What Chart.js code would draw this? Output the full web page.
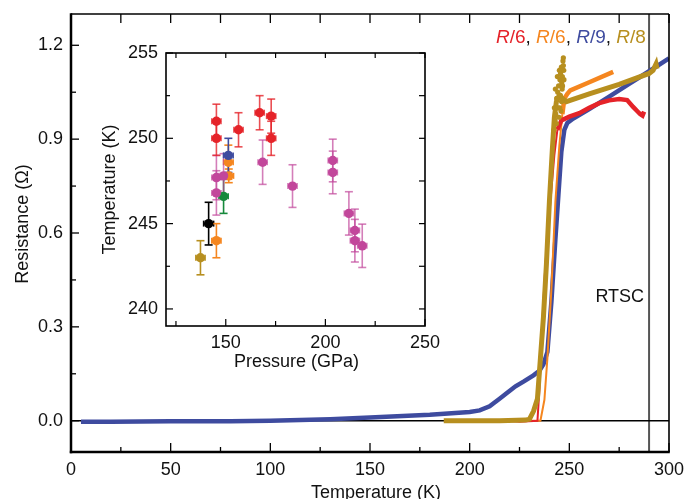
<!DOCTYPE html>
<html><head><meta charset="utf-8">
<script src="https://cdn.jsdelivr.net/npm/chart.js@4.4.1/dist/chart.umd.min.js"></script>
<style>
html,body{margin:0;padding:0;background:#fff;}
#wrap{position:relative;width:686px;height:499px;overflow:hidden;background:#fff;}
#main{position:absolute;left:0;top:0;}
#inset{position:absolute;left:96px;top:36px;}
</style></head><body>
<div id="wrap"><canvas id="main" width="686" height="499"></canvas><canvas id="inset" width="345" height="340"></canvas></div>
<script>
const FONT = '"Liberation Sans", Arial, Helvetica, sans-serif';

// ---------- main chart data (Temperature K, Resistance Ohm) ----------
const blueT = [5, 20, 50, 80, 100, 130, 150, 180, 200, 205, 210, 215, 219, 223, 227, 232, 235, 237, 239, 241, 243, 244.5, 246, 247.5, 249, 252, 260, 270, 280, 290, 300];
const blueR = [-0.003, -0.003, -0.002, -0.002, 0.0, 0.005, 0.01, 0.019, 0.028, 0.033, 0.046, 0.07, 0.09, 0.11, 0.125, 0.145, 0.16, 0.18, 0.22, 0.38, 0.58, 0.72, 0.86, 0.93, 0.952, 0.966, 0.996, 1.036, 1.077, 1.117, 1.158];

const redT = [197, 205, 215, 225, 234, 235, 236, 238, 240.5, 242.5, 244, 246, 250, 255, 260, 265, 270, 275, 279, 282, 284, 285.5, 286.7, 287.5];
const redR = [0.0, -0.002, 0.002, -0.003, 0.0, 0.1, 0.26, 0.5, 0.7, 0.85, 0.93, 0.96, 0.972, 0.983, 1.0, 1.015, 1.024, 1.028, 1.025, 1.003, 0.99, 0.98, 0.975, 0.988];

const orangeT = [198, 205, 215, 225, 235.5, 237.5, 239, 241, 243, 245, 246.5, 247.5, 249, 250.5, 260, 272];
const orangeR = [0.0, -0.003, 0.002, 0.0, 0.0, 0.067, 0.2, 0.42, 0.7, 0.88, 0.98, 1.03, 1.045, 1.056, 1.082, 1.115];

const goldT = [187, 200, 215, 228, 230, 232, 234, 235.5, 237, 238.5, 240, 241.5, 242.5, 243.5, 245, 246.5, 248.5, 260, 275, 290, 292, 293.5, 294];
const goldR = [0.0, 0.0, 0.0, 0.002, 0.005, 0.03, 0.07, 0.2, 0.33, 0.5, 0.7, 0.87, 0.97, 1.02, 1.04, 1.03, 1.02, 1.045, 1.075, 1.11, 1.12, 1.14, 1.125];
// scattered points of the R/8 trace around the transition top
const goldNoiseT = [242.3, 242.5, 242.8, 243, 243.2, 243.5, 243.7, 244, 244.3, 244.6, 244.8, 245, 245.3, 245.5, 245.8, 246, 246.2, 246.4, 246.5, 246.8, 247, 247, 247.2, 243.8, 245.2, 244.2, 245.6, 246.1, 246.6, 247.3];
const goldNoiseR = [0.93, 1.0, 0.96, 1.06, 0.98, 0.95, 1.03, 1.1, 1.0, 1.07, 0.97, 1.12, 1.09, 1.04, 0.99, 1.13, 1.08, 1.06, 1.1, 1.15, 1.135, 1.16, 1.12, 1.03, 1.0, 1.05, 1.11, 1.02, 1.07, 1.09];

const zeroT = [0, 300], zeroR = [0, 0];
const roomT = [290, 290], roomR = [-0.1, 1.3];

const mainXTicks = [0, 50, 100, 150, 200, 250, 300];
const mainXMinor = [25, 75, 125, 175, 225, 275];
const mainYTicks = [0.0, 0.3, 0.6, 0.9, 1.2];
const mainYMinor = [0.15, 0.45, 0.75, 1.05];

// ---------- inset data (Pressure GPa, Temperature K, errors) ----------
const redP = [145.3, 145.3, 156.4, 167.0, 172.8, 172.8];
const redTc = [251.0, 250.0, 250.5, 251.5, 251.3, 250.0];
const redTErr = [1.0, 1.0, 1.0, 1.0, 1.0, 1.0];
const redPErr = [2.3, 2.3, 2.3, 2.3, 2.3, 2.3];

const magP = [145.3, 145.3, 148.9, 168.5, 183.5, 203.7, 203.7, 211.8, 214.8, 214.8, 218.5];
const magTc = [247.7, 246.8, 247.8, 248.6, 247.2, 248.7, 248.0, 245.6, 244.6, 244.0, 243.7];
const magTErr = [1.3, 1.3, 1.3, 1.3, 1.25, 1.25, 1.25, 1.27, 1.25, 1.25, 1.27];
const magPErr = [2.3, 2.3, 2.3, 2.3, 2.3, 2.3, 2.3, 2.3, 2.3, 2.3, 2.3];

const blueP = [151.3], blueTc = [249.0], blueTErr = [1.0], bluePErr = [2.4];
const orangeP = [151.3, 151.5, 145.3], orangeTc = [248.6, 247.8, 244.0], orangeTErr = [1.0, 0.4, 1.0], orangePErr = [2.4, 2.4, 2.3];
const greenP = [148.9], greenTc = [246.6], greenTErr = [1.0], greenPErr = [2.3];
const blackP = [141.4], blackTc = [245.0], blackTErr = [1.25], blackPErr = [2.5];
const goldP = [137.3], goldTc = [243.0], goldTErr = [1.0], goldPErr = [2.3];

const insetXTicks = [150, 200, 250];
const insetXMinor = [125, 175, 225];
const insetYTicks = [240, 245, 250, 255];
const insetYMinor = [242.5, 247.5, 252.5];

const C = {red:'#e52329', orange:'#f5861f', blue:'#3e4b9f', gold:'#b78f1f', mag:'#c2479b', green:'#16893c', black:'#000000'};

const pts = (xs, ys) => xs.map((v, i) => ({x: v, y: ys[i]}));

function line(ctx, x1, y1, x2, y2){ ctx.beginPath(); ctx.moveTo(x1, y1); ctx.lineTo(x2, y2); ctx.stroke(); }
function noPad(s){ s.paddingLeft = 0; s.paddingRight = 0; s.paddingTop = 0; s.paddingBottom = 0; }

// ---------- main chart ----------
const mainDecor = {
  id: 'mainDecor',
  afterDraw(chart){
    const {ctx, chartArea: a, scales: {x, y}} = chart;
    ctx.save();
    ctx.strokeStyle = '#000';
    ctx.lineWidth = 1.3;
    mainXTicks.forEach(v => { const p = x.getPixelForValue(v); line(ctx, p, a.bottom, p, a.bottom - 9); line(ctx, p, a.top, p, a.top + 9); });
    mainXMinor.forEach(v => { const p = x.getPixelForValue(v); line(ctx, p, a.bottom, p, a.bottom - 5); line(ctx, p, a.top, p, a.top + 9); });
    mainYTicks.forEach(v => { const p = y.getPixelForValue(v); line(ctx, a.left, p, a.left + 8, p); });
    mainYMinor.forEach(v => { const p = y.getPixelForValue(v); line(ctx, a.left, p, a.left + 5, p); });
    ctx.lineWidth = 1.6;
    line(ctx, a.left, a.top, a.right, a.top);
    line(ctx, a.right, a.top, a.right, a.bottom);
    ctx.lineWidth = 2.5;
    line(ctx, a.left, a.top - 0.8, a.left, a.bottom + 1.2);
    line(ctx, a.left - 1.2, a.bottom, a.right + 0.8, a.bottom);

    ctx.fillStyle = '#111';
    ctx.font = '18px ' + FONT;
    ctx.textAlign = 'center';
    ctx.textBaseline = 'alphabetic';
    ctx.fillText('Temperature (K)', (a.left + a.right) / 2 + 6, 498);
    ctx.save();
    ctx.translate(28, 224);
    ctx.rotate(-Math.PI / 2);
    ctx.fillText('Resistance (\u03A9)', 0, 0);
    ctx.restore();

    // RTSC label
    ctx.textAlign = 'right';
    ctx.fillText('RTSC', x.getPixelForValue(287.5), y.getPixelForValue(0.381));

    // series labels
    ctx.textAlign = 'left';
    let px = x.getPixelForValue(213.2);
    const py = y.getPixelForValue(1.208);
    const parts = [['R', C.red, true], ['/6', C.red, false], [', ', '#111', false],
                   ['R', C.orange, true], ['/6', C.orange, false], [', ', '#111', false],
                   ['R', C.blue, true], ['/9', C.blue, false], [', ', '#111', false],
                   ['R', C.gold, true], ['/8', C.gold, false]];
    parts.forEach(([t, col, it]) => {
      ctx.font = (it ? 'italic ' : '') + '19px ' + FONT;
      ctx.fillStyle = col;
      ctx.fillText(t, px, py);
      px += ctx.measureText(t).width;
    });
    ctx.restore();
  }
};

const thinBelow = (thr, thin, thick) => ({ borderWidth: c => (c.p1.parsed.y < thr ? thin : thick) });

new Chart(document.getElementById('main'), {
  type: 'scatter',
  data: {
    datasets: [
      {label: 'R/8 noise', data: pts(goldNoiseT, goldNoiseR), showLine: false, pointRadius: 2.6, pointBackgroundColor: C.gold, pointBorderWidth: 0},
      {label: 'R/8', data: pts(goldT, goldR), showLine: true, borderColor: C.gold, borderWidth: 5, pointRadius: 0, tension: 0},
      {label: 'R/6 (red)', data: pts(redT, redR), showLine: true, borderColor: C.red, borderWidth: 4, pointRadius: 0, tension: 0, segment: thinBelow(0.94, 2, 4.5)},
      {label: 'R/6 (orange)', data: pts(orangeT, orangeR), showLine: true, borderColor: C.orange, borderWidth: 4, pointRadius: 0, tension: 0, segment: thinBelow(1.0, 2, 4.5)},
      {label: 'R/9', data: pts(blueT, blueR), showLine: true, borderColor: C.blue, borderWidth: 4.5, pointRadius: 0, tension: 0},
      {label: 'zero', data: pts(zeroT, zeroR), showLine: true, borderColor: '#000', borderWidth: 1.6, pointRadius: 0},
      {label: 'room temperature', data: pts(roomT, roomR), showLine: true, borderColor: '#555', borderWidth: 2, pointRadius: 0}
    ]
  },
  options: {
    responsive: false, animation: false,
    layout: {padding: {top: 14, right: 17, left: 0, bottom: 0}},
    plugins: {legend: {display: false}, tooltip: {enabled: false}},
    scales: {
      x: {type: 'linear', min: 0, max: 300,
          afterFit(s){ s.height = 47; noPad(s); },
          afterBuildTicks(s){ s.ticks = mainXTicks.map(v => ({value: v})); },
          grid: {display: false, drawTicks: false}, border: {display: false},
          ticks: {padding: 7, color: '#111', font: {family: FONT, size: 18}, maxRotation: 0, autoSkip: false, callback: v => String(v)}},
      y: {type: 'linear', min: -0.1, max: 1.3,
          afterFit(s){ s.width = 71; noPad(s); },
          afterBuildTicks(s){ s.ticks = mainYTicks.map(v => ({value: v})); },
          grid: {display: false, drawTicks: false}, border: {display: false},
          ticks: {padding: 8, color: '#111', font: {family: FONT, size: 18}, callback: v => v.toFixed(1)}}
    }
  },
  plugins: [mainDecor]
});

// ---------- inset ----------
const errBars = {
  id: 'errBars',
  beforeDatasetsDraw(chart){
    const {ctx, scales: {x, y}} = chart;
    ctx.save();
    ctx.lineWidth = 1.6;
    const dsets = chart.data.datasets;
    for (let k = dsets.length - 1; k >= 0; k--){
      const ds = dsets[k];
      ctx.strokeStyle = ds.barColor;
      ds.data.forEach((p, i) => {
        const px = x.getPixelForValue(p.x), py = y.getPixelForValue(p.y);
        const y1 = y.getPixelForValue(p.y + ds.tErr[i]), y2 = y.getPixelForValue(p.y - ds.tErr[i]);
        const x1 = x.getPixelForValue(p.x - ds.pErr[i]), x2 = x.getPixelForValue(p.x + ds.pErr[i]);
        line(ctx, px, y1, px, y2);
        line(ctx, px - 4, y1, px + 4, y1);
        line(ctx, px - 4, y2, px + 4, y2);
        line(ctx, x1, py, x2, py);
        line(ctx, x1, py - 3, x1, py + 3);
        line(ctx, x2, py - 3, x2, py + 3);
      });
    }
    ctx.restore();
  }
};

const insetDecor = {
  id: 'insetDecor',
  afterDraw(chart){
    const {ctx, chartArea: a, scales: {x, y}} = chart;
    ctx.save();
    ctx.strokeStyle = '#000';
    ctx.lineWidth = 1.2;
    insetXTicks.forEach(v => { const p = x.getPixelForValue(v); line(ctx, p, a.bottom, p, a.bottom - 7); line(ctx, p, a.top, p, a.top + 5); });
    insetXMinor.forEach(v => { const p = x.getPixelForValue(v); line(ctx, p, a.bottom, p, a.bottom - 5); line(ctx, p, a.top, p, a.top + 5); });
    insetYTicks.forEach(v => { const p = y.getPixelForValue(v); line(ctx, a.left, p, a.left + 7, p); line(ctx, a.right, p, a.right - 6, p); });
    insetYMinor.forEach(v => { const p = y.getPixelForValue(v); line(ctx, a.left, p, a.left + 4, p); line(ctx, a.right, p, a.right - 6, p); });
    ctx.lineWidth = 1.6;
    ctx.strokeRect(a.left, a.top, a.right - a.left, a.bottom - a.top);

    ctx.fillStyle = '#111';
    ctx.font = '18px ' + FONT;
    ctx.textAlign = 'center';
    ctx.textBaseline = 'alphabetic';
    ctx.fillText('Pressure (GPa)', (a.left + a.right) / 2 + 1, 366.7 - 36);
    ctx.save();
    ctx.translate(115 - 96, (a.top + a.bottom) / 2);
    ctx.rotate(-Math.PI / 2);
    ctx.fillText('Temperature (K)', 0, 0);
    ctx.restore();
    ctx.restore();
  }
};

function insetSet(label, P, T, tE, pE, col, barCol){
  return {label, data: pts(P, T), tErr: tE, pErr: pE, barColor: barCol || col,
          pointRadius: 4.7, pointBackgroundColor: col, pointBorderColor: col, pointBorderWidth: 0, showLine: false};
}

new Chart(document.getElementById('inset'), {
  type: 'scatter',
  data: {
    datasets: [
      insetSet('red', redP, redTc, redTErr, redPErr, C.red, 'rgba(229,35,41,0.8)'),
      insetSet('blue', blueP, blueTc, blueTErr, bluePErr, C.blue),
      insetSet('magenta', magP, magTc, magTErr, magPErr, C.mag, 'rgba(194,71,155,0.7)'),
      insetSet('orange', orangeP, orangeTc, orangeTErr, orangePErr, C.orange),
      insetSet('green', greenP, greenTc, greenTErr, greenPErr, C.green),
      insetSet('black', blackP, blackTc, blackTErr, blackPErr, C.black),
      insetSet('gold', goldP, goldTc, goldTErr, goldPErr, C.gold)
    ]
  },
  options: {
    responsive: false, animation: false,
    layout: {padding: {top: 17, right: 16, left: 0, bottom: 0}},
    plugins: {legend: {display: false}, tooltip: {enabled: false}},
    scales: {
      x: {type: 'linear', min: 120, max: 250,
          afterFit(s){ s.height = 50; noPad(s); },
          afterBuildTicks(s){ s.ticks = insetXTicks.map(v => ({value: v})); },
          grid: {display: false, drawTicks: false}, border: {display: false},
          ticks: {padding: 6, color: '#111', font: {family: FONT, size: 18}, maxRotation: 0, autoSkip: false, callback: v => String(v)}},
      y: {type: 'linear', min: 239, max: 255,
          afterFit(s){ s.width = 70; noPad(s); },
          afterBuildTicks(s){ s.ticks = insetYTicks.map(v => ({value: v})); },
          grid: {display: false, drawTicks: false}, border: {display: false},
          ticks: {padding: 8, color: '#111', font: {family: FONT, size: 18}, callback: v => String(v)}}
    }
  },
  plugins: [errBars, insetDecor]
});
</script>
</body></html>
